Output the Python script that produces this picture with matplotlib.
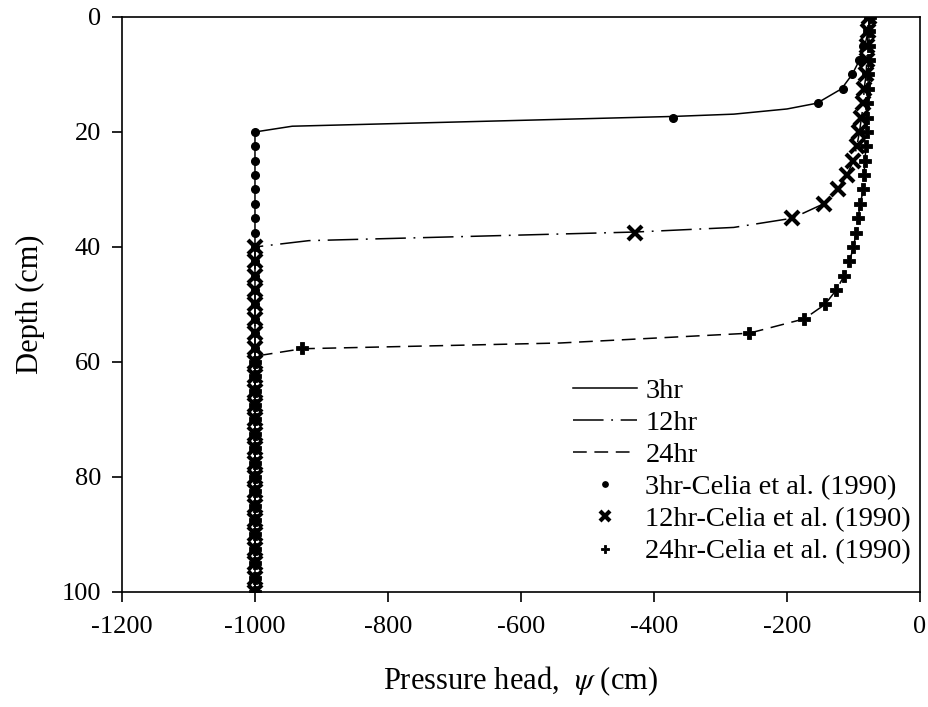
import matplotlib
matplotlib.use("Agg")
import matplotlib.pyplot as plt

plt.rcParams['font.family'] = ['Liberation Serif', 'DejaVu Serif']
plt.rcParams['mathtext.fontset'] = 'stix'
plt.rcParams['axes.unicode_minus'] = False

# simulated profiles (lines)
psi_3hr = [-75, -78, -83, -91, -102, -118, -155, -200, -280, -371, -944, -1000, -1000]
z_3hr = [0, 2.5, 5, 7.5, 10, 12.5, 15, 16, 16.9, 17.3, 19, 20, 100]

psi_12hr = [-76, -78, -79, -80, -81, -84, -85, -88, -91, -95, -100, -110, -124, -145, -192, -280, -428, -919, -1000, -1000]
z_12hr = [0, 2.5, 5, 7.5, 10, 12.5, 15, 17.5, 20, 22.5, 25, 27.5, 30, 32.5, 35, 36.6, 37.4, 38.9, 40, 100]

psi_24hr = [-75, -76, -77, -77, -78, -78, -79, -79, -80, -81, -83, -84, -85, -90, -93, -96, -100, -106, -114,
            -126, -143, -174, -257, -541, -929, -1000, -1000]
z_24hr = [0, 2.5, 5, 7.5, 10, 12.5, 15, 17.5, 20, 22.5, 25, 27.5, 30, 32.5, 35, 37.5, 40, 42.5, 45,
          47.5, 50, 52.5, 55, 56.7, 57.7, 59, 100]

# Celia et al. (1990) points
z_celia = [0, 2.5, 5, 7.5, 10, 12.5, 15, 17.5, 20, 22.5, 25, 27.5, 30, 32.5, 35, 37.5, 40, 42.5, 45, 47.5,
           50, 52.5, 55, 57.5, 60, 62.5, 65, 67.5, 70, 72.5, 75, 77.5, 80, 82.5, 85, 87.5, 90, 92.5, 95, 97.5, 100]
celia_3hr = [-75, -78, -85, -91, -102, -116, -154, -371, -1000, -1000, -1000, -1000, -1000, -1000, -1000, -1000,
             -1000, -1000, -1000, -1000, -1000, -1000, -1000, -1000, -1000, -1000, -1000, -1000, -1000, -1000,
             -1000, -1000, -1000, -1000, -1000, -1000, -1000, -1000, -1000, -1000, -1000]
celia_12hr = [-76, -78, -79, -80, -81, -84, -85, -88, -91, -95, -100, -110, -124, -145, -192, -428,
              -1000, -1000, -1000, -1000, -1000, -1000, -1000, -1000, -1000, -1000, -1000, -1000, -1000, -1000,
              -1000, -1000, -1000, -1000, -1000, -1000, -1000, -1000, -1000, -1000, -1000]
celia_24hr = [-75, -76, -77, -77, -78, -78, -79, -79, -80, -81, -83, -84, -85, -90, -93, -96, -100, -106, -114,
              -126, -143, -174, -257, -929, -1000, -1000, -1000, -1000, -1000, -1000, -1000, -1000, -1000,
              -1000, -1000, -1000, -1000, -1000, -1000, -1000, -1000]

fig = plt.figure(figsize=(9.29, 7.07), dpi=100)
ax = fig.add_axes([0.1313, 0.1627, 0.859, 0.8133])

ax.plot(psi_3hr, z_3hr, color='black', lw=1.1, ls='-', label='3hr')
ax.plot(psi_12hr, z_12hr, color='black', lw=1.1, dashes=(20, 5, 1.2, 5), label='12hr')
ax.plot(psi_24hr, z_24hr, color='black', lw=1.1, dashes=(9, 5), label='24hr')

ax.plot(celia_3hr, z_celia, ls='none', marker='o', ms=5.5, color='black', label='3hr-Celia et al. (1990)')
ax.plot(celia_12hr, z_celia, ls='none', marker='x', ms=10.5, mew=3, color='black', label='12hr-Celia et al. (1990)')
ax.plot(celia_24hr, z_celia, ls='none', marker='P', ms=8, mew=0.6, color='black', label='24hr-Celia et al. (1990)')

ax.set_xlim(-1200, 0)
ax.set_ylim(100, 0)
ax.set_xticks([-1200, -1000, -800, -600, -400, -200, 0])
ax.set_yticks([0, 20, 40, 60, 80, 100])
ax.tick_params(direction='out', length=7, width=1.2, labelsize=19, pad=8)
ax.xaxis.set_tick_params(pad=10)
for s in ax.spines.values():
    s.set_linewidth(1.2)

ax.set_xlabel(r'Pressure head,  $\psi$ (cm)', fontsize=22, labelpad=19)
ax.set_ylabel('Depth (cm)', fontsize=22, labelpad=12)

ax.legend(loc='lower right', bbox_to_anchor=(1.021, 0.003), frameon=False, fontsize=20.5,
          handlelength=2.25, handletextpad=0.3, labelspacing=0.22, markerscale=0.7)

fig.savefig('out.png', dpi=100)
